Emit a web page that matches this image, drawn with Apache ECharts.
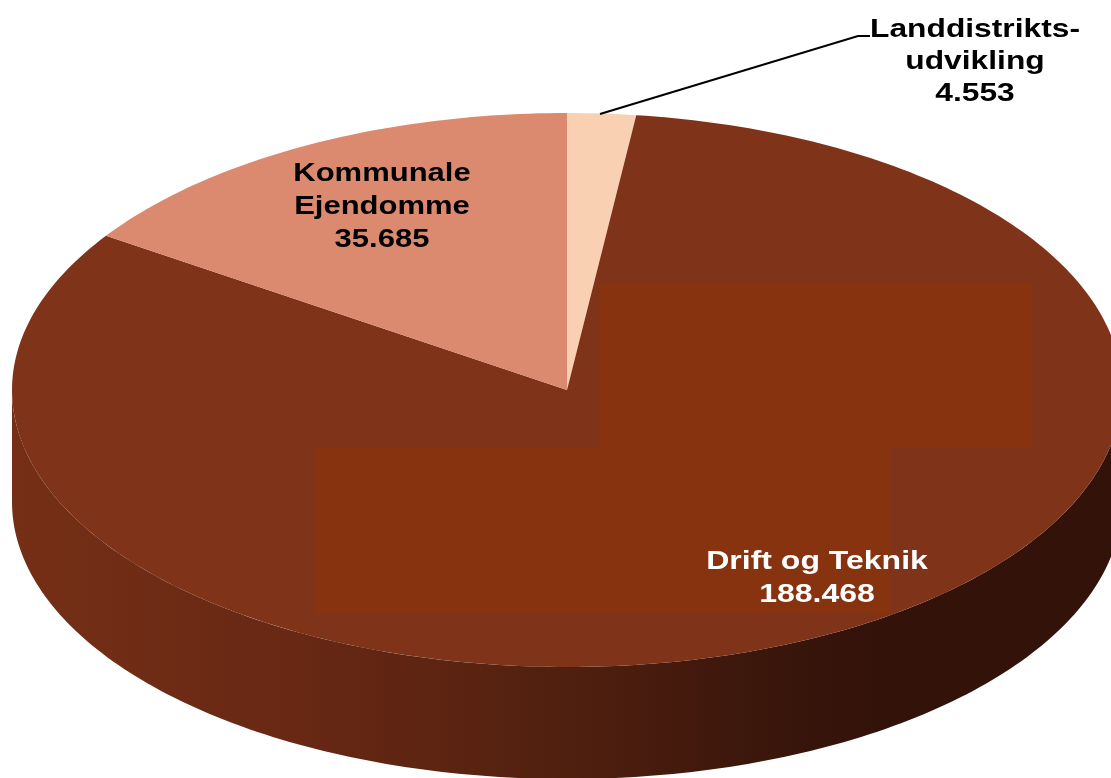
<!DOCTYPE html>
<html>
<head>
<meta charset="utf-8">
<style>html,body{margin:0;padding:0;background:#fff}#c{width:1111px;height:778px}</style>
<script src="https://cdn.jsdelivr.net/npm/echarts@6/dist/echarts.min.js"></script>
</head>
<body>
<div id="c"></div>
<script>
const categories = ['Landdistrikts-\nudvikling', 'Drift og Teknik', 'Kommunale\nEjendomme'];
const valueLabels = ['4.553', '188.468', '35.685'];
const values = [4.553, 188.468, 35.685];
const sliceColors = ['#f9d1b2', '#7f3319', '#db8a70'];
const labelColors = ['#000000', '#ffffff', '#000000'];

const cx = 567, cy = 390, rx = 555, ry = 277, depth = 112;
const total = values.reduce((a, b) => a + b, 0);
const pt = (deg, dy) => {
  const r = deg * Math.PI / 180;
  return [cx + rx * Math.sin(r), cy - ry * Math.cos(r) + (dy || 0)];
};
const arc = (a, b, dy) => {
  const n = Math.max(2, Math.ceil(Math.abs(b - a)));
  const out = [];
  for (let i = 0; i <= n; i++) out.push(pt(a + (b - a) * i / n, dy));
  return out;
};
const labelPlacement = [
  { x: 975, y: 62, sx: 1.27, size: 25, lh: 32 },
  { x: 817, y: 579, sx: 1.28, size: 25, lh: 33 },
  { x: 382, y: 207, sx: 1.24, size: 25, lh: 33 }
];
const wallGradient = {
  type: 'linear', x: 0, y: 0, x2: 1, y2: 0,
  colorStops: [
    { offset: 0, color: '#752f16' },
    { offset: 0.25, color: '#682814' },
    { offset: 0.4, color: '#5b2411' },
    { offset: 0.55, color: '#4a1d0e' },
    { offset: 0.68, color: '#3a160b' },
    { offset: 0.78, color: '#33120a' },
    { offset: 1, color: '#33120a' }
  ]
};

function renderItem(params, api) {
  const i = params.dataIndex;
  const before = values.slice(0, i).reduce((a, b) => a + b, 0);
  const a0 = before / total * 360;
  const a1 = (before + api.value(0)) / total * 360;
  const children = [];
  const w0 = Math.max(a0, 90), w1 = Math.min(a1, 270);
  if (w1 > w0) {
    const top = arc(w0, w1, 0);
    const bottom = arc(w1, w0, depth);
    children.push({ type: 'polygon', shape: { points: top.concat(bottom) }, style: { fill: wallGradient } });
  }
  children.push({
    type: 'polygon',
    shape: { points: [[cx, cy]].concat(arc(a0, a1, 0)) },
    style: { fill: sliceColors[i] }
  });
  if (i === 1) {
    children.push({ type: 'rect', shape: { x: 600, y: 283, width: 431, height: 164 }, style: { fill: '#87330f' } });
    children.push({ type: 'rect', shape: { x: 315, y: 447, width: 575, height: 167 }, style: { fill: '#87330f' } });
  }
  if (i === 0) {
    children.push({
      type: 'polyline',
      shape: { points: [[600, 114], [858, 36], [870, 36]] },
      style: { stroke: '#000', lineWidth: 2, fill: 'none' }
    });
  }
  const p = labelPlacement[i];
  children.push({
    type: 'text', x: p.x, y: p.y, scaleX: p.sx, z2: 10,
    style: {
      text: categories[i] + '\n' + valueLabels[i],
      fill: labelColors[i],
      font: 'bold ' + p.size + 'px "Liberation Sans", Arial, sans-serif',
      lineHeight: p.lh, align: 'center', verticalAlign: 'middle'
    }
  });
  return { type: 'group', children };
}

const chart = echarts.init(document.getElementById('c'), null, { renderer: 'canvas' });
chart.setOption({
  animation: false,
  backgroundColor: '#ffffff',
  series: [{
    type: 'custom',
    coordinateSystem: 'none',
    renderItem,
    clip: false,
    data: values.map(v => [v])
  }]
});
</script>
</body>
</html>
